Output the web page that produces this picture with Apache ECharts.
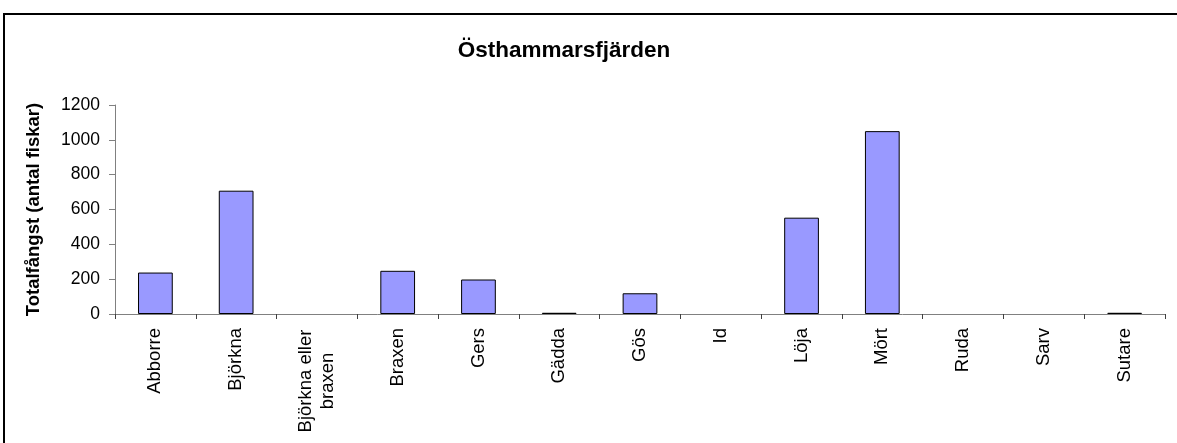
<!DOCTYPE html>
<html>
<head>
<meta charset="utf-8">
<script src="https://cdn.jsdelivr.net/npm/echarts@6/dist/echarts.min.js"></script>
<style>
  html, body { margin: 0; padding: 0; background: #fff; }
  #catch_chart { width: 1177px; height: 443px; }
</style>
</head>
<body>
<div id="catch_chart"></div>
<script>
// fångst per art, Östhammarsfjärden
var species = ['Abborre', 'Björkna', 'Björkna eller\nbraxen', 'Braxen', 'Gers', 'Gädda', 'Gös', 'Id', 'Löja', 'Mört', 'Ruda', 'Sarv', 'Sutare'];
var catchCount = [238, 708, 0, 248, 198, 7, 119, 0, 553, 1050, 0, 0, 7];
var yTicks = [0, 200, 400, 600, 800, 1000, 1200];

function display_catch(){

    var bar_chart = echarts.init(document.getElementById('catch_chart'));

    // zero bars should not leave a black border line on the axis
    var barData = catchCount.map(function(v){
        if(v === 0){
            return {value: v, itemStyle: {borderWidth: 0}};
        }
        return v;
    });

    var bar_option = {
        animation: false,
        textStyle: {fontFamily: 'Liberation Sans'},
        graphic: [
            {
                type: 'rect',
                shape: {x: 4, y: 14, width: 1300, height: 600},
                style: {fill: 'none', stroke: '#000', lineWidth: 2}
            }
        ],
        title: {
            text: 'Östhammarsfjärden',
            left: 559,
            textAlign: 'center',
            top: 34,
            textStyle: {fontSize: 22.5, fontWeight: 'bold', color: '#000', fontFamily: 'Liberation Sans'}
        },
        grid: {left: 115, right: 12, top: 105, bottom: 129},
        xAxis: {
            type: 'category',
            data: species,
            axisLine: {lineStyle: {color: '#808080', width: 1}},
            axisTick: {show: true, length: 5, lineStyle: {color: '#404040'}},
            axisLabel: {
                rotate: 90,
                margin: 14,
                fontSize: 18.5,
                color: '#000',
                interval: 0,
                formatter: function(v){
                    if(v.indexOf('\n') >= 0){
                        var parts = v.split('\n');
                        return '{c|' + parts[0] + '}\n{c|' + parts[1] + '}';
                    }
                    return v;
                },
                rich: {
                    c: {width: 106, align: 'center', fontSize: 18.5, lineHeight: 22, color: '#000'}
                }
            }
        },
        yAxis: {
            type: 'value',
            min: yTicks[0],
            max: yTicks[yTicks.length - 1],
            interval: yTicks[1] - yTicks[0],
            name: 'Totalfångst (antal fiskar)',
            nameLocation: 'middle',
            nameGap: 72,
            nameTextStyle: {fontSize: 18.5, fontWeight: 'bold', color: '#000'},
            splitLine: {show: false},
            axisLine: {show: true, lineStyle: {color: '#808080', width: 1}},
            axisTick: {show: true, length: 6, lineStyle: {color: '#808080'}},
            axisLabel: {
                fontSize: 17.5,
                color: '#000',
                margin: 15,
                formatter: function(v){ return String(v); }
            }
        },
        series: [
            {
                type: 'bar',
                data: barData,
                barWidth: '43%',
                itemStyle: {color: '#9999FF', borderColor: '#000', borderWidth: 1}
            }
        ]
    };

    bar_chart.clear();
    bar_chart.setOption(bar_option);
}

display_catch();
</script>
</body>
</html>
